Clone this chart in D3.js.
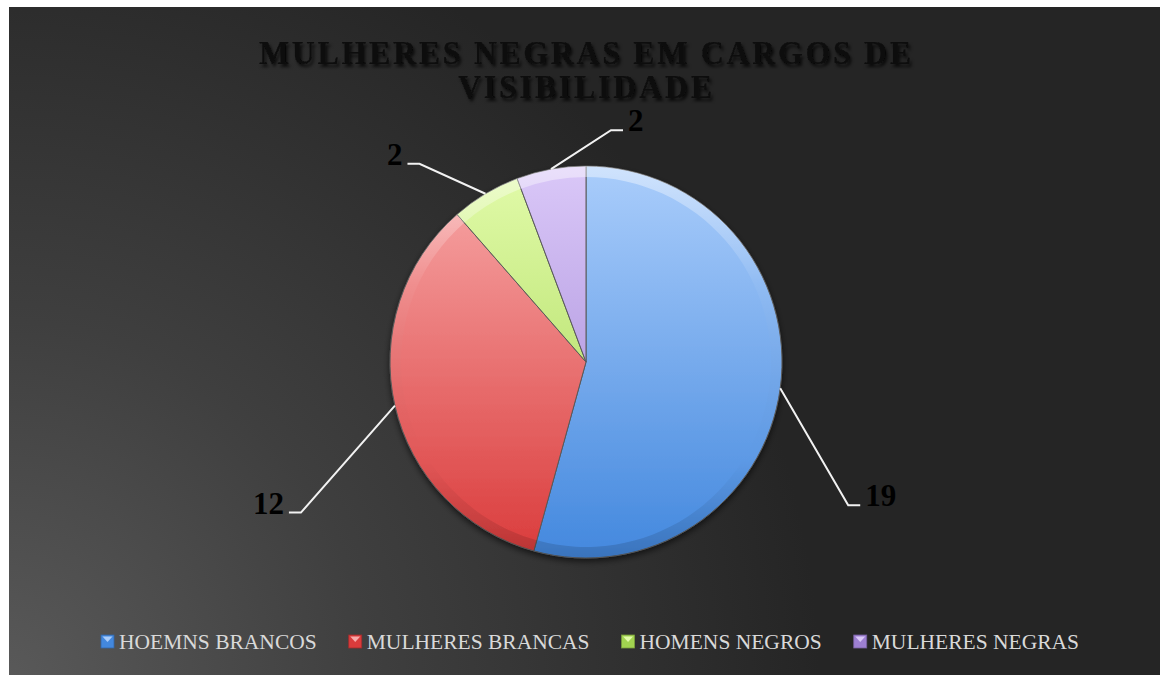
<!DOCTYPE html>
<html>
<head>
<meta charset="utf-8">
<script src="https://cdn.jsdelivr.net/npm/d3@7"></script>
<style>
    body { margin: 0; background: #fff; }
    svg { display: block; }
</style>
</head>
<body>
<svg width="1161" height="675"></svg>
<script>
// dados do gráfico
const categories = ["HOEMNS BRANCOS", "MULHERES BRANCAS", "HOMENS NEGROS", "MULHERES NEGRAS"];
const values = [19, 12, 2, 2];
const titleLines = ["MULHERES NEGRAS EM CARGOS DE", "VISIBILIDADE"];

// cores (claro em cima, escuro embaixo)
const lightColors = ["#aacdfb", "#f8aaaa", "#e2fbaa", "#dac8f8"];
const darkColors = ["#4388de", "#da3b3b", "#a2d450", "#9d7fd2"];
// deslocamento do cotovelo da linha de chamada em relação ao ponto no arco
const labelOffsets = [[68, 117], [-94, 107], [-66, -30], [60, -39]];

const svg = d3.select("svg"),
    width = +svg.attr("width"),
    height = +svg.attr("height");

const defs = svg.append("defs");

// fundo escuro com brilho no canto inferior esquerdo
const bg = defs.append("radialGradient")
    .attr("id", "bg")
    .attr("gradientUnits", "userSpaceOnUse")
    .attr("cx", 0).attr("cy", 690).attr("r", 820);
bg.append("stop").attr("offset", "0%").attr("stop-color", "#5a5a5a");
bg.append("stop").attr("offset", "45%").attr("stop-color", "#3f3f3f");
bg.append("stop").attr("offset", "100%").attr("stop-color", "#252525");

svg.append("rect")
    .attr("x", 9).attr("y", 7)
    .attr("width", width - 10).attr("height", height - 7)
    .attr("fill", "url(#bg)");

const cx = 586, cy = 362, r = 196;

// gradientes das fatias (coordenadas do grupo centrado)
values.forEach((v, i) => {
    const grad = defs.append("linearGradient")
        .attr("id", "slice" + i)
        .attr("gradientUnits", "userSpaceOnUse")
        .attr("x1", 0).attr("y1", -r)
        .attr("x2", 0).attr("y2", r);
    grad.append("stop").attr("offset", "0%").attr("stop-color", lightColors[i]);
    grad.append("stop").attr("offset", "100%").attr("stop-color", darkColors[i]);
});

const bevel = defs.append("linearGradient")
    .attr("id", "bevel")
    .attr("gradientUnits", "userSpaceOnUse")
    .attr("x1", 0).attr("y1", -r)
    .attr("x2", 0).attr("y2", r);
bevel.append("stop").attr("offset", "0%").attr("stop-color", "#fff").attr("stop-opacity", 0.45);
bevel.append("stop").attr("offset", "30%").attr("stop-color", "#fff").attr("stop-opacity", 0.05);
bevel.append("stop").attr("offset", "75%").attr("stop-color", "#000").attr("stop-opacity", 0.0);
bevel.append("stop").attr("offset", "100%").attr("stop-color", "#000").attr("stop-opacity", 0.15);

const shadow = defs.append("filter").attr("id", "shadow")
    .attr("x", "-20%").attr("y", "-20%").attr("width", "140%").attr("height", "140%");
shadow.append("feDropShadow")
    .attr("dx", 0).attr("dy", 3).attr("stdDeviation", 3)
    .attr("flood-color", "#000").attr("flood-opacity", 0.6);

const pie = d3.pie().sort(null).value(d => d);
const arcs = pie(values);
const arc = d3.arc().innerRadius(0).outerRadius(r);
const ring = d3.arc().innerRadius(r - 11).outerRadius(r);

const g = svg.append("g").attr("transform", `translate(${cx},${cy})`);

g.append("g")
    .attr("filter", "url(#shadow)")
    .selectAll("path")
    .data(arcs)
    .join("path")
    .attr("d", arc)
    .attr("fill", (d, i) => `url(#slice${i})`)
    .attr("stroke", "#5a5a5a")
    .attr("stroke-width", 1);

g.append("g")
    .selectAll("path")
    .data(arcs)
    .join("path")
    .attr("d", ring)
    .attr("fill", "url(#bevel)");

// linhas de chamada e rótulos
arcs.forEach((d, i) => {
    const mid = (d.startAngle + d.endAngle) / 2;
    const px = r * Math.sin(mid), py = -r * Math.cos(mid);
    const ex = px + labelOffsets[i][0], ey = py + labelOffsets[i][1];
    const dir = labelOffsets[i][0] > 0 ? 1 : -1;
    const tx = ex + dir * 12;
    g.append("polyline")
        .attr("points", [[px, py], [ex, ey], [tx, ey]].map(p => p.join(",")).join(" "))
        .attr("fill", "none")
        .attr("stroke", "#f2f2f2")
        .attr("stroke-width", 2);
    g.append("text")
        .attr("x", tx + dir * 5)
        .attr("y", ey + 1)
        .attr("text-anchor", dir > 0 ? "start" : "end")
        .style("font-family", "'Liberation Serif', serif")
        .style("font-weight", "bold")
        .style("font-size", "31px")
        .style("fill", "#000")
        .text(d.data);
});

// título (esticado um pouco na vertical)
const titleShadow = defs.append("filter").attr("id", "tshadow");
titleShadow.append("feDropShadow")
    .attr("dx", 2).attr("dy", 3).attr("stdDeviation", 1.8)
    .attr("flood-color", "#000").attr("flood-opacity", 0.7);

const titleLengths = [652, 254];
svg.append("g")
    .attr("filter", "url(#tshadow)")
    .selectAll("text")
    .data(titleLines)
    .join("text")
    .attr("transform", (d, i) => `translate(585,${64 + i * 34}) scale(1,1.06)`)
    .attr("text-anchor", "middle")
    .attr("textLength", (d, i) => titleLengths[i])
    .attr("lengthAdjust", "spacing")
    .style("font-family", "'Liberation Serif', serif")
    .style("font-weight", "bold")
    .style("font-size", "32px")
    .style("fill", "#0c0c0c")
    .text(d => d);

// legenda
const legend = svg.append("g");
const items = legend.selectAll("g")
    .data(categories)
    .join("g");
items.append("rect")
    .attr("width", 13).attr("height", 13)
    .attr("y", -14)
    .attr("fill", (d, i) => darkColors[i])
    .attr("stroke", (d, i) => d3.color(darkColors[i]).darker(0.8))
    .attr("stroke-width", 0.8);
items.append("path")
    .attr("d", "M1.5,-12.5 L11.5,-12.5 L6.5,-7 Z")
    .attr("fill", (d, i) => lightColors[i]);
items.append("text")
    .attr("x", 18)
    .style("font-family", "'Liberation Serif', serif")
    .style("font-size", "21.5px")
    .style("fill", "#d9d9d9")
    .text(d => d);

let pos = 0;
const itemX = [];
items.each(function () {
    itemX.push(pos);
    const w = d3.select(this).select("text").node().getComputedTextLength();
    pos += 18 + w + 32;
});
const legendWidth = pos - 32;
const startX = 590 - legendWidth / 2;
items.attr("transform", (d, i) => `translate(${startX + itemX[i]},649)`);
</script>
</body>
</html>
